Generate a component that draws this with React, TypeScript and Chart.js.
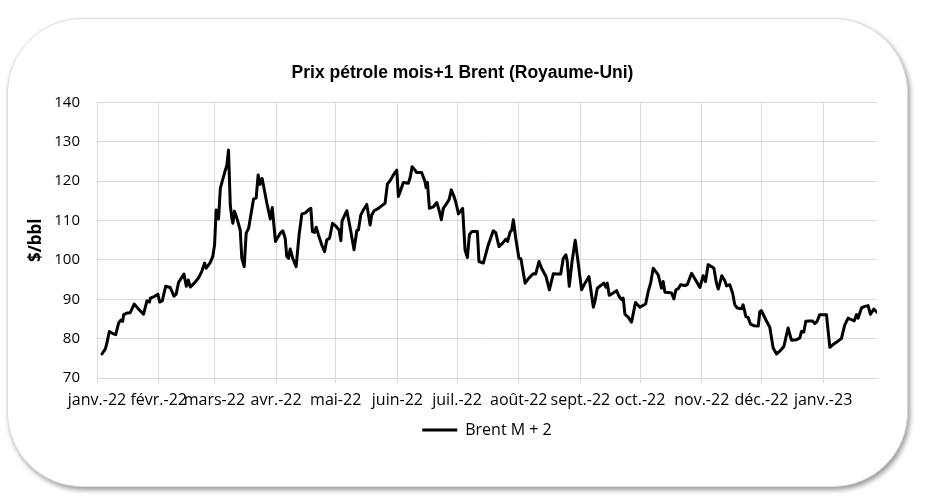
import React, { useEffect, useRef } from 'react';
import { Chart, registerables } from 'chart.js';

Chart.register(...registerables);

const chartTitle = 'Prix pétrole mois+1 Brent (Royaume-Uni)';
const yAxisTitle = '$/bbl';
const seriesLabel = 'Brent M + 2';

// x axis: days since 1 Jan 2022, one tick per month start
const monthStartDays = [0, 31, 59, 90, 120, 151, 181, 212, 243, 273, 304, 334, 365];
const monthLabels = [
  'janv.-22', 'févr.-22', 'mars-22', 'avr.-22', 'mai-22', 'juin-22', 'juil.-22',
  'août-22', 'sept.-22', 'oct.-22', 'nov.-22', 'déc.-22', 'janv.-23',
];
const yMin = 70;
const yMax = 140;
const yStep = 10;

// Series: day offset (since 1 Jan 2022) and price in $/bbl
const dayOffsets = [
  2.5, 4.2, 5.0, 6.2, 8.0, 9.4, 10.9, 12.0, 12.9, 13.4, 15.0, 16.7, 18.7, 20.9, 23.4, 25.1, 26.4, 26.8, 28.8, 30.6,
  31.5, 32.8, 34.5, 36.8, 38.7, 39.8, 41.0, 43.7, 44.9, 45.9, 46.9, 48.9, 51.0, 52.7, 54.1, 54.9, 56.9, 58.2, 59.1, 59.9,
  61.1, 62.0, 62.8, 64.5, 65.3, 66.1, 67.0, 67.8, 68.3, 69.1, 70.3, 72.0, 72.8, 74.0, 75.0, 76.2, 78.7, 80.0, 81.0, 82.0,
  83.0, 85.4, 87.1, 88.1, 89.7, 92.1,
  93.4, 94.6, 95.4, 96.3, 97.1, 98.4, 100.1, 101.6, 103.0, 104.6, 106.3, 107.5, 108.3, 109.3, 110.2, 111.3, 113.0, 114.4,
  115.5, 116.9, 118.4, 120.2, 121.7, 122.6, 123.2, 125.6, 127.6, 129.2, 130.6, 131.4, 132.6, 133.9, 135.6, 137.3, 138.1,
  139.3, 141.5, 143.2, 144.8, 146.0, 147.3, 149.0, 150.7, 151.5, 152.7, 154.0, 156.5, 157.4, 158.4, 159.9, 160.7, 163.2,
  164.9, 165.4, 166.1, 167.1, 169.1, 170.8, 172.1, 173.1, 174.1, 176.1, 177.1, 178.1, 179.2, 180.3, 181.7, 183.8, 185.0,
  186.2, 187.2, 188.4, 191.2, 192.0,
  194.2, 196.7, 199.2, 200.4, 202.1, 203.8, 205.6, 206.4, 207.6, 208.5, 209.3, 210.5, 212.1, 213.1, 215.2, 217.3, 219.3,
  220.5, 222.2, 223.5, 225.7, 227.4, 229.4, 231.4, 233.1, 234.4, 235.7, 236.4, 237.4, 238.8, 240.4, 241.9, 243.6, 245.3,
  247.3, 249.5, 250.3, 251.5, 253.7, 254.8, 255.8, 256.5, 257.5, 259.5, 261.2, 262.5, 263.7, 264.5, 265.4, 267.1, 268.7,
  270.7, 272.9, 275.8, 277.1, 278.3, 279.6, 282.1,
  283.8, 284.6, 285.5, 287.2, 288.8, 290.0, 291.0, 292.2, 293.4, 295.5, 296.7, 298.9, 300.9, 303.1, 304.7, 305.9, 307.2,
  308.9, 310.1, 311.4, 312.3, 313.1, 314.1, 315.6, 316.5, 318.1, 319.5, 320.6, 321.8, 324.0, 324.8, 326.2, 327.3, 328.5,
  330.2, 332.4, 333.2, 334.0, 336.2, 338.2, 339.9, 341.6, 343.2, 345.3, 346.3, 347.4, 349.1, 351.6, 353.3, 354.1, 355.3,
  356.3, 358.0, 359.7, 360.8, 362.0, 363.3, 365.0, 366.7, 368.4, 370.0, 371.7, 374.2, 375.9, 377.6, 379.3, 380.6, 381.8,
  382.6, 384.3, 386.0, 387.6, 388.8, 390.5, 392.1,
];

const brentPrices = [
  76.1, 77.4, 78.9, 81.8, 81.3, 81.0, 84.0, 84.7, 84.4, 86.1, 86.5, 86.6, 88.8, 87.5, 86.2, 89.6, 89.3, 90.3, 90.7, 91.3,
  89.3, 89.6, 93.3, 93.0, 90.8, 91.3, 94.3, 96.4, 93.3, 94.9, 93.1, 94.1, 95.4, 97.1, 99.2, 97.9, 99.3, 100.9, 103.8, 112.7,
  110.4, 118.2, 119.7, 122.8, 124.1, 127.9, 114.0, 110.6, 109.3, 112.4, 110.6, 107.6, 100.4, 98.3, 106.8, 108.0, 115.5, 115.7, 121.6, 119.2,
  120.7, 114.4, 110.4, 113.3, 104.7, 106.8,
  107.4, 105.5, 100.9, 100.4, 102.8, 100.4, 98.3, 106.4, 111.7, 111.9, 112.7, 113.1, 107.2, 107.0, 108.3, 106.4, 103.8, 102.1,
  105.1, 105.5, 109.3, 108.5, 107.6, 104.9, 109.9, 112.5, 107.2, 102.6, 107.5, 107.6, 111.4, 112.7, 114.1, 108.9, 111.4,
  112.5, 113.1, 113.8, 114.4, 119.3, 120.1, 121.6, 122.8, 116.1, 117.8, 119.7, 119.5, 120.9, 123.7, 122.8, 122.2, 122.2,
  119.9, 118.4, 119.7, 113.1, 113.5, 114.6, 112.4, 110.2, 113.1, 114.6, 115.5, 117.8, 116.5, 114.8, 111.7, 113.1, 102.6,
  100.6, 106.4, 107.2, 107.2, 99.6,
  99.2, 103.8, 107.4, 107.0, 103.4, 104.2, 105.3, 104.7, 107.0, 107.6, 110.2, 105.5, 100.4, 100.3, 94.1, 95.5, 96.5,
  96.4, 99.6, 97.9, 95.8, 92.4, 96.5, 96.4, 96.4, 100.4, 101.3, 99.6, 93.3, 99.6, 105.0, 99.2, 92.4, 94.1,
  95.8, 88.0, 89.5, 92.8, 93.7, 94.1, 93.1, 94.1, 91.0, 91.6, 92.2, 90.7, 89.9, 90.3, 86.2, 85.4, 84.2,
  89.2, 88.0, 88.8, 92.0, 94.1, 97.9, 96.2,
  92.8, 94.5, 91.8, 91.7, 91.6, 90.1, 92.4, 92.7, 93.7, 93.5, 93.7, 96.6, 94.9, 93.0, 96.0, 94.5, 98.8,
  98.3, 97.9, 94.1, 92.6, 94.1, 96.0, 94.7, 93.4, 93.7, 91.6, 88.6, 87.8, 87.6, 88.6, 85.6, 85.4, 83.7,
  83.3, 83.2, 86.9, 87.1, 84.8, 82.9, 77.6, 76.1, 76.8, 78.0, 80.3, 82.7, 79.6, 79.7, 80.2, 81.8, 81.7,
  84.4, 84.5, 84.5, 83.8, 84.4, 86.1, 86.1, 86.1, 77.8, 78.5, 79.1, 80.0, 83.5, 85.2, 84.8, 84.5, 86.1,
  85.2, 87.8, 88.2, 88.4, 86.2, 87.5, 86.7,
];

const GRID = '#d9d9d9';
const TEXT = '#000000';

export default function App() {
  const canvasRef = useRef<HTMLCanvasElement | null>(null);

  useEffect(() => {
    const canvas = canvasRef.current;
    if (!canvas) return;
    const points = dayOffsets.map((d, i) => ({ x: d, y: brentPrices[i] }));
    const chart = new Chart(canvas, {
      type: 'line',
      data: {
        datasets: [
          {
            label: seriesLabel,
            data: points,
            borderColor: '#000000',
            backgroundColor: '#000000',
            borderWidth: 3,
            pointRadius: 0,
            pointHoverRadius: 0,
            tension: 0,
            borderJoinStyle: 'round',
            borderCapStyle: 'round',
            yAxisID: 'y',
            xAxisID: 'x',
          },
        ],
      },
      options: {
        responsive: false,
        animation: false,
        events: [],
        layout: { padding: { left: 0, right: 0, top: 0, bottom: 54 } },
        plugins: {
          tooltip: { enabled: false },
          title: {
            display: true,
            text: chartTitle,
            color: TEXT,
            font: { family: 'Liberation Sans', size: 17.5, weight: 'bold', lineHeight: 1.2 },
            padding: { top: 62.5, bottom: 19 },
          },
          legend: {
            display: true,
            position: 'bottom',
            fullSize: false,
            labels: {
              color: TEXT,
              font: { family: 'Open Sans', size: 16 },
              boxWidth: 35,
              boxHeight: 3,
              padding: 10,
              generateLabels: (c: any) =>
                Chart.defaults.plugins.legend.labels
                  .generateLabels(c)
                  .map((l: any) => ({ ...l, fillStyle: '#000000', lineWidth: 0 })),
            },
          },
        },
        scales: {
          x: {
            type: 'linear',
            position: 'bottom',
            min: 0,
            max: dayOffsets[dayOffsets.length - 1],
            afterBuildTicks: (scale: any) => {
              scale.ticks = monthStartDays.map((v) => ({ value: v }));
            },
            afterFit: (scale: any) => {
              scale.height = 34;
            },
            grid: {
              color: GRID,
              lineWidth: 1,
              drawTicks: true,
              tickLength: 5,
              tickColor: GRID,
            },
            border: { color: GRID, width: 1 },
            ticks: {
              autoSkip: false,
              maxRotation: 0,
              minRotation: 0,
              padding: 8,
              color: TEXT,
              font: { family: 'Open Sans', size: 16 },
              callback: (_v: any, i: number) => monthLabels[i],
            },
          },
          y: {
            type: 'linear',
            position: 'left',
            min: yMin,
            max: yMax,
            afterFit: (scale: any) => {
              scale.width = 97;
            },
            grid: { color: GRID, lineWidth: 1, drawTicks: false },
            border: { color: GRID, width: 1 },
            ticks: {
              stepSize: yStep,
              padding: 17,
              color: TEXT,
              font: { family: 'Open Sans', size: 15 },
            },
            title: {
              display: true,
              text: yAxisTitle,
              color: TEXT,
              font: { family: 'Open Sans', size: 17, weight: 'bold', lineHeight: 1.2 },
              padding: { top: 26, bottom: 0 },
            },
          },
          yRight: {
            type: 'linear',
            position: 'right',
            display: true,
            grid: { display: false, drawTicks: false },
            border: { display: false },
            ticks: { display: false },
            afterFit: (scale: any) => {
              scale.width = 48;
            },
          },
        },
      } as any,
    });
    return () => chart.destroy();
  }, []);

  return (
    <div style={{ position: 'absolute', left: 0, top: 0, width: 925, height: 502, background: '#ffffff' }}>
      <div
        style={{
          position: 'absolute',
          left: 7,
          top: 18,
          width: 901,
          height: 469,
          boxSizing: 'border-box',
          border: '1px solid #dcdcdc',
          borderRadius: 75,
          background: '#ffffff',
          boxShadow: '2px 3px 5px rgba(0,0,0,0.4)',
        }}
      />
      <canvas
        ref={canvasRef}
        width={925}
        height={502}
        style={{ position: 'absolute', left: 0, top: 0, width: 925, height: 502 }}
      />
    </div>
  );
}
